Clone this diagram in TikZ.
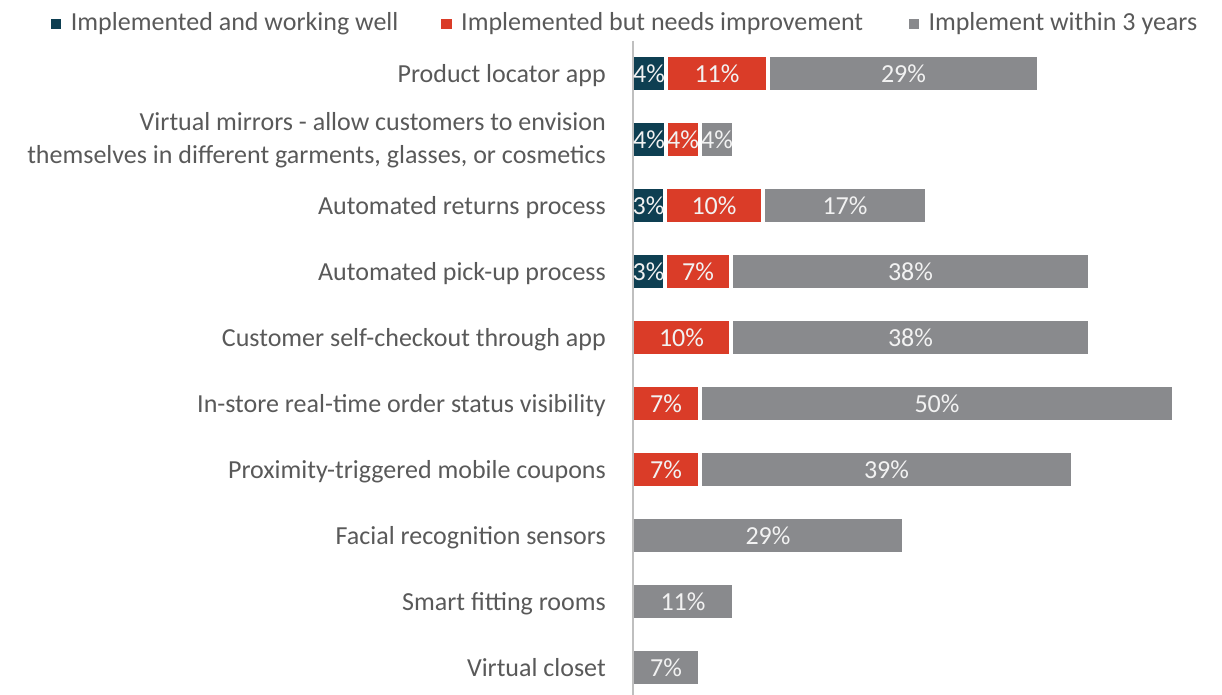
\documentclass[tikz,border=0pt]{standalone}
\usepackage{fontspec}
\setmainfont{Carlito}
\definecolor{wellblue}{HTML}{0E3F52}
\definecolor{needred}{HTML}{DA3C28}
\definecolor{soongray}{HTML}{898A8D}
\definecolor{labelgray}{HTML}{595959}
\definecolor{axisgray}{HTML}{BFBFBF}
\tikzset{
  cat/.style={anchor=base east, inner sep=0pt, text=labelgray, font=\fontsize{26}{32}\selectfont},
  keytext/.style={anchor=base west, inner sep=0pt, text=labelgray, font=\fontsize{26}{32}\selectfont},
  pct/.style={anchor=base, inner sep=0pt, text=white!95!black, font=\fontsize{26}{32}\selectfont}
}
% one piece of a stacked bar: name, centre y, from x, to x, colour, value
\newcommand{\segbar}[6]{%
  \fill[#5] (#3,#2-16.2) rectangle (#4,#2+16.2);
  \node[pct] (#1) at ({(#3+#4)/2},#2+8.7) {#6};
}
\begin{document}
\begin{tikzpicture}[x=1pt,y=-1pt]
        \useasboundingbox (0,0) rectangle (1222,695);

        % Legend
        \fill[wellblue] (51,19) rectangle (61,29);
        \node[keytext] (k1) at (70.7,31) {Implemented and working well};
        \fill[needred] (441,19) rectangle (451.5,29);
        \node[keytext] (k2) at (461,31) {Implemented but needs improvement};
        \fill[soongray] (908.5,19) rectangle (919,29);
        \node[keytext] (k3) at (928.3,31) {Implement within 3 years};

        % Vertical axis
        \coordinate (axtop) at (632.5,40.7);
        \coordinate (axbot) at (632.5,695);
        \draw[axisgray, line width=2pt] (axtop) -- (axbot);

        % Product locator app
        \node[cat] (c1) at (606,82.2) {Product locator app};
        \segbar{r1a}{73.5}{634}{664}{wellblue}{4\%}
        \segbar{r1b}{73.5}{668}{766}{needred}{11\%}
        \segbar{r1c}{73.5}{770}{1037}{soongray}{29\%}

        % Virtual mirrors
        \node[cat] (c2a) at (606,131) {Virtual mirrors - allow customers to envision};
        \node[cat] (c2b) at (606,163.3) {themselves in different garments, glasses, or cosmetics};
        \segbar{r2a}{139.5}{634}{664}{wellblue}{4\%}
        \segbar{r2b}{139.5}{668}{698}{needred}{4\%}
        \segbar{r2c}{139.5}{702}{732}{soongray}{4\%}

        % Automated returns process
        \node[cat] (c3) at (606,214.2) {Automated returns process};
        \segbar{r3a}{205.5}{634}{663}{wellblue}{3\%}
        \segbar{r3b}{205.5}{667}{761}{needred}{10\%}
        \segbar{r3c}{205.5}{765}{925}{soongray}{17\%}

        % Automated pick-up process
        \node[cat] (c4) at (606,280.2) {Automated pick-up process};
        \segbar{r4a}{271.5}{634}{663}{wellblue}{3\%}
        \segbar{r4b}{271.5}{667}{729}{needred}{7\%}
        \segbar{r4c}{271.5}{733}{1088}{soongray}{38\%}

        % Customer self-checkout through app
        \node[cat] (c5) at (606,346.2) {Customer self-checkout through app};
        \segbar{r5b}{337.5}{634}{729}{needred}{10\%}
        \segbar{r5c}{337.5}{733}{1088}{soongray}{38\%}

        % In-store real-time order status visibility
        \node[cat] (c6) at (606,412.2) {In-store real-time order status visibility};
        \segbar{r6b}{403.5}{634}{698}{needred}{7\%}
        \segbar{r6c}{403.5}{702}{1172}{soongray}{50\%}

        % Proximity-triggered mobile coupons
        \node[cat] (c7) at (606,478.2) {Proximity-triggered mobile coupons};
        \segbar{r7b}{469.5}{634}{698}{needred}{7\%}
        \segbar{r7c}{469.5}{702}{1071}{soongray}{39\%}

        % Facial recognition sensors
        \node[cat] (c8) at (606,544.2) {Facial recognition sensors};
        \segbar{r8c}{535.5}{634}{902}{soongray}{29\%}

        % Smart fitting rooms
        \node[cat] (c9) at (606,610.2) {Smart fitting rooms};
        \segbar{r9c}{601.5}{634}{732}{soongray}{11\%}

        % Virtual closet
        \node[cat] (c10) at (606,676.2) {Virtual closet};
        \segbar{r10c}{667.5}{634}{698}{soongray}{7\%}
\end{tikzpicture}
\end{document}
